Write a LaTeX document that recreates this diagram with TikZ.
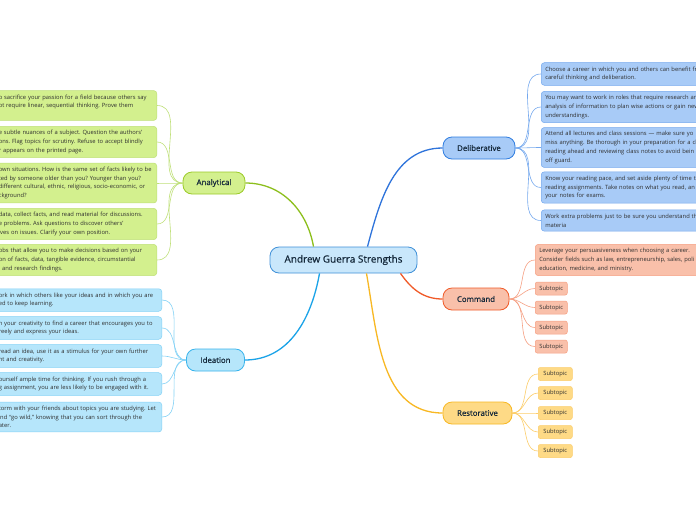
\documentclass[tikz,border=0pt]{standalone}
\usepackage{fontspec}
\setmainfont{Open Sans}
\newfontfamily\labelfont{Open Sans}[FakeBold=0.5]
\usepackage{xcolor}
\usepackage{tikz}

\definecolor{hubfill}{HTML}{C9E7FB}
\definecolor{hubline}{HTML}{3F90D8}
\definecolor{limefill}{HTML}{D3F08E}
\definecolor{limeline}{HTML}{9CCB28}
\definecolor{limesoft}{HTML}{BFE078}
\definecolor{limestem}{HTML}{8DBF1D}
\definecolor{skyfill}{HTML}{B6E6FB}
\definecolor{skyline}{HTML}{39B4EC}
\definecolor{skysoft}{HTML}{84D2F6}
\definecolor{skystem}{HTML}{1AA3E8}
\definecolor{delfill}{HTML}{A8CBF7}
\definecolor{delline}{HTML}{2F7DE0}
\definecolor{delsoft}{HTML}{74A8EE}
\definecolor{delstem}{HTML}{2F74DB}
\definecolor{cmdfill}{HTML}{F9C0AA}
\definecolor{cmdline}{HTML}{F05A28}
\definecolor{cmdsoft}{HTML}{F6A083}
\definecolor{resfill}{HTML}{FEDA86}
\definecolor{resline}{HTML}{F8B823}
\definecolor{ressoft}{HTML}{FCCD6A}
\definecolor{labeltext}{HTML}{14283A}
\definecolor{leaftext}{HTML}{2E2E2E}

\begin{document}
\frenchspacing
\begin{tikzpicture}[
			x=1pt, y=-1pt,
			hub/.style={rectangle, rounded corners=9pt, draw=hubline, fill=hubfill, line width=0.8pt,
				minimum width=147pt, minimum height=26pt, inner sep=0pt,
				font=\labelfont\fontsize{10}{12}\selectfont, text=labeltext},
			branch/.style={rectangle, rounded corners=9pt, line width=0.8pt, minimum height=22pt,
				inner sep=0pt, font=\labelfont\fontsize{7.8}{9}\selectfont, text=labeltext},
			leaf/.style={rectangle, rounded corners=3pt, line width=0.5pt, align=left,
				inner xsep=3pt, inner ysep=4pt, font=\fontsize{5.8}{8.7}\selectfont, text=leaftext},
			gleaf/.style={leaf, anchor=east, fill=limefill, draw=limesoft, text width=155pt},
			bleaf/.style={leaf, anchor=east, fill=skyfill, draw=skysoft, text width=160pt},
			dleaf/.style={leaf, anchor=west, fill=delfill, draw=delsoft, text width=190pt, inner xsep=4pt},
			cleaf/.style={leaf, anchor=west, fill=cmdfill, draw=cmdsoft, text width=190pt, inner xsep=4pt},
			subtopic/.style={rectangle, rounded corners=2pt, line width=0.5pt, inner sep=0pt,
				minimum height=13pt, font=\fontsize{5.8}{7}\selectfont, text=leaftext},
			stem/.style={line width=1.3pt},
			twig/.style={line width=0.6pt},
			]
			\useasboundingbox (0,0) rectangle (696,520);
			\clip (0,0) rectangle (696,520);
			\fill[white] (0,0) rectangle (696,520);

			\node[hub] (c) at (343.5,260) {Andrew Guerra Strengths};

			\node[branch, fill=limefill, draw=limeline, minimum width=62pt] (an) at (214,183) {Analytical};
			\node[branch, fill=skyfill, draw=skyline, minimum width=58pt] (id) at (215.5,360) {Ideation};
			\node[branch, fill=delfill, draw=delline, minimum width=72pt] (dl) at (479,148) {Deliberative};
			\node[branch, fill=cmdfill, draw=cmdline, minimum width=66pt] (cm) at (476,299) {Command};
			\node[branch, fill=resfill, draw=resline, minimum width=69pt] (rs) at (477.5,413) {Restorative};

			\node[gleaf] (g1) at (157,105.5) {o sacrifice your passion for a field because others say\\ot require linear, sequential thinking. Prove them\\\mbox{}};
			\node[gleaf] (g2) at (157,142) {e subtle nuances of a subject. Question the authors'\\ons. Flag topics for scrutiny. Refuse to accept blindly\\r appears on the printed page.};
			\node[gleaf] (g3) at (157,183) {own situations. How is the same set of facts likely to be\\ted by someone older than you? Younger than you?\\different cultural, ethnic, religious, socio-economic, or\\ckground?};
			\node[gleaf] (g4) at (157,224) { data, collect facts, and read material for discussions.\\e problems. Ask questions to discover others'\\ives on issues. Clarify your own position.};
			\node[gleaf] (g5) at (157,260) {obs that allow you to make decisions based on your\\on of facts, data, tangible evidence, circumstantial\\, and research findings.};

			\node[bleaf] (b1) at (162,300) {ork in which others like your ideas and in which you are\\ed to keep learning.};
			\node[bleaf] (b2) at (162,328) {n your creativity to find a career that encourages you to\\reely and express your ideas.};
			\node[bleaf] (b3) at (162,356) { read an idea, use it as a stimulus for your own further\\ht and creativity.};
			\node[bleaf] (b4) at (162,384) {ourself ample time for thinking. If you rush through a\\g assignment, you are less likely to be engaged with it.};
			\node[bleaf] (b5) at (162,417) {torm with your friends about topics you are studying. Let\\ind ``go wild,'' knowing that you can sort through the\\ater.};

			\node[dleaf] (d1) at (541,74) {Choose a career in which you and others can benefit fr\\careful thinking and deliberation.};
			\node[dleaf] (d2) at (541,107) {You may want to work in roles that require research an\\analysis of information to plan wise actions or gain new\\understandings.};
			\node[dleaf] (d3) at (541,147.5) {Attend all lectures and class sessions — make sure yo\\miss anything. Be thorough in your preparation for a cl\\reading ahead and reviewing class notes to avoid bein\\off guard.};
			\node[dleaf] (d4) at (541,187.5) {Know your reading pace, and set aside plenty of time to\\reading assignments. Take notes on what you read, an\\your notes for exams.};
			\node[dleaf] (d5) at (541,220.5) {Work extra problems just to be sure you understand th\\materia};

			\node[cleaf] (k0) at (535,260) {Leverage your persuasiveness when choosing a career.\\Consider fields such as law, entrepreneurship, sales, poli\\education, medicine, and ministry.};
			\foreach \i/\y in {1/288.5,2/307.5,3/327.5,4/346.5}
				\node[subtopic, fill=cmdfill, draw=cmdsoft, minimum width=32pt, anchor=west] (k\i) at (535,\y) {Subtopic};
			\foreach \i/\y in {1/374,2/393,3/413,4/432,5/451}
				\node[subtopic, fill=resfill, draw=ressoft, minimum width=34pt, anchor=west] (r\i) at (538,\y) {Subtopic};

			\draw[stem, limestem] ([xshift=-30pt]c.north) to[out=100,in=0] (an.east);
			\draw[stem, skystem] ([xshift=-24pt]c.south) to[out=-100,in=0] (id.east);
			\draw[stem, delstem] ([xshift=24pt]c.north) to[out=75,in=180] (dl.west);
			\draw[stem, cmdline] ([xshift=57pt]c.south) to[out=-55,in=180] (cm.west);
			\draw[stem, resline] ([xshift=23pt]c.south) to[out=-80,in=180] (rs.west);

			\foreach \i in {1,...,5} {
				\draw[twig, limesoft] (an.west) to[out=180,in=0] (g\i.east);
				\draw[twig, skysoft] (id.west) to[out=180,in=0] (b\i.east);
				\draw[twig, delsoft] (dl.east) to[out=0,in=180] (d\i.west);
				\draw[twig, ressoft] (rs.east) to[out=0,in=180] (r\i.west);
			}
			\foreach \i in {0,...,4}
				\draw[twig, cmdsoft] (cm.east) to[out=0,in=180] (k\i.west);

		\end{tikzpicture}
\end{document}
